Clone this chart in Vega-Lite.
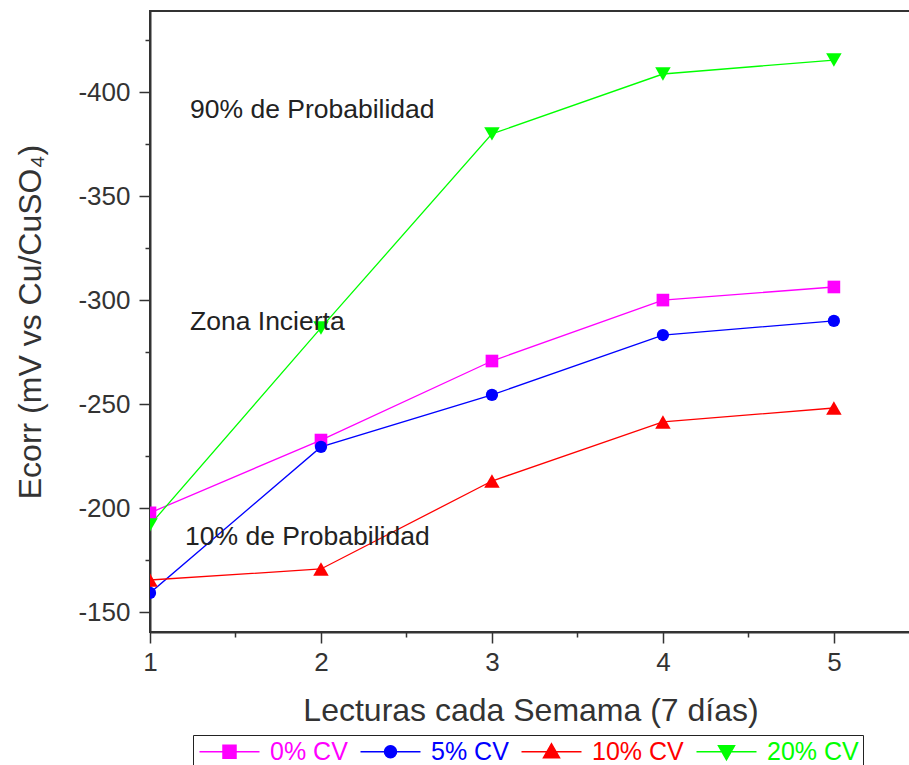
{
  "$schema": "https://vega.github.io/schema/vega-lite/v6.json",
  "width": 761,
  "height": 621,
  "autosize": "none",
  "padding": {"left": 150, "top": 11, "right": 0, "bottom": 133},
  "background": "white",
  "config": {
    "font": "Liberation Sans",
    "view": {"stroke": "#333", "strokeWidth": 2},
    "axis": {
      "grid": false,
      "labelFlush": false,
      "domainColor": "#333",
      "domainWidth": 2,
      "tickColor": "#333",
      "tickWidth": 1.5,
      "labelColor": "#333",
      "titleColor": "#333",
      "labelFont": "Liberation Sans",
      "titleFont": "Liberation Sans",
      "titleFontWeight": "normal"
    }
  },
  "datasets": {
    "series": [
      {"serie": "0% CV", "semana": 1, "ecorr": -197.7},
      {"serie": "0% CV", "semana": 2, "ecorr": -232.7},
      {"serie": "0% CV", "semana": 3, "ecorr": -270.7},
      {"serie": "0% CV", "semana": 4, "ecorr": -300.0},
      {"serie": "0% CV", "semana": 5, "ecorr": -306.3},
      {"serie": "5% CV", "semana": 1, "ecorr": -159.2},
      {"serie": "5% CV", "semana": 2, "ecorr": -229.4},
      {"serie": "5% CV", "semana": 3, "ecorr": -254.4},
      {"serie": "5% CV", "semana": 4, "ecorr": -283.2},
      {"serie": "5% CV", "semana": 5, "ecorr": -290.0},
      {"serie": "10% CV", "semana": 1, "ecorr": -165.4},
      {"serie": "10% CV", "semana": 2, "ecorr": -170.7},
      {"serie": "10% CV", "semana": 3, "ecorr": -213.0},
      {"serie": "10% CV", "semana": 4, "ecorr": -241.4},
      {"serie": "10% CV", "semana": 5, "ecorr": -248.1},
      {"serie": "20% CV", "semana": 1, "ecorr": -191.9},
      {"serie": "20% CV", "semana": 2, "ecorr": -286.6},
      {"serie": "20% CV", "semana": 3, "ecorr": -379.9},
      {"serie": "20% CV", "semana": 4, "ecorr": -408.7},
      {"serie": "20% CV", "semana": 5, "ecorr": -415.4}
    ],
    "notas": [
      {"texto": "90% de Probabilidad", "semana": 1.234, "ecorr": -391.4},
      {"texto": "Zona Incierta", "semana": 1.234, "ecorr": -289.5},
      {"texto": "10% de Probabilidad", "semana": 1.205, "ecorr": -186.1}
    ]
  },
  "resolve": {"axis": {"x": "independent", "y": "independent"}},
  "layer": [
    {
      "mark": {"type": "rule", "color": "#008080", "strokeWidth": 1.5},
      "encoding": {
        "y": {
          "datum": -350,
          "type": "quantitative",
          "scale": {"domain": [-140.4, -439], "nice": false, "zero": false},
          "axis": {
            "orient": "left",
            "values": [-425, -375, -325, -275, -225, -175],
            "tickSize": 5,
            "labels": false,
            "domain": false,
            "title": null
          }
        }
      }
    },
    {
      "mark": {"type": "rule", "color": "#800080", "strokeWidth": 1.5},
      "encoding": {
        "y": {
          "datum": -200,
          "type": "quantitative",
          "scale": {"domain": [-140.4, -439], "nice": false, "zero": false},
          "axis": null
        }
      }
    },
    {
      "data": {"name": "series"},
      "mark": {"type": "line", "strokeWidth": 1.3, "clip": true},
      "encoding": {
        "x": {
          "field": "semana",
          "type": "quantitative",
          "scale": {"domain": [1, 5.451], "nice": false, "zero": false},
          "axis": {
            "orient": "bottom",
            "values": [1, 2, 3, 4, 5],
            "tickSize": 11,
            "labelFontSize": 26,
            "labelPadding": 6,
            "title": "Lecturas cada Semama (7 días)",
            "titleFontSize": 32,
            "titlePadding": 20
          }
        },
        "y": {
          "field": "ecorr",
          "type": "quantitative",
          "scale": {"domain": [-140.4, -439], "nice": false, "zero": false},
          "axis": {
            "orient": "left",
            "values": [-400, -350, -300, -250, -200, -150],
            "labelExpr": "'' + datum.value",
            "tickSize": 11,
            "labelFontSize": 26,
            "labelPadding": 9,
            "title": "Ecorr (mV vs Cu/CuSO₄)",
            "titleFontSize": 32,
            "titlePadding": 30
          }
        },
        "stroke": {
          "field": "serie",
          "type": "nominal",
          "scale": {
            "domain": ["0% CV", "5% CV", "10% CV", "20% CV"],
            "range": ["#ff00ff", "#0000ff", "#ff0000", "#00ff00"]
          },
          "legend": {
            "orient": "none",
            "legendX": 43,
            "legendY": 724,
            "direction": "horizontal",
            "title": null,
            "strokeColor": "#222",
            "fillColor": "white",
            "padding": 4,
            "labelFont": "Liberation Sans",
            "labelFontSize": 25,
            "labelLimit": 0,
            "symbolSize": 400,
            "symbolStrokeWidth": 1.5,
            "symbolOffset": 20,
            "labelOffset": 28,
            "columnPadding": 9,
            "encode": {
              "symbols": {
                "update": {
                  "shape": {"signal": "datum.value === '0% CV' ? 'M-3,0H3M-0.65,-0.65H0.65V0.65H-0.65Z' : datum.value === '5% CV' ? 'M-3,0H3M0.6,0A0.6,0.6 0 1,1 -0.6,0A0.6,0.6 0 1,1 0.6,0Z' : datum.value === '10% CV' ? 'M-3,0H3M0,-0.8L0.8,0.6H-0.8Z' : 'M-3,0H3M0,0.8L0.8,-0.6H-0.8Z'"},
                  "fill": {"signal": "datum.value === '0% CV' ? '#ff00ff' : datum.value === '5% CV' ? '#0000ff' : datum.value === '10% CV' ? '#ff0000' : '#00ff00'"},
                  "stroke": {"signal": "datum.value === '0% CV' ? '#ff00ff' : datum.value === '5% CV' ? '#0000ff' : datum.value === '10% CV' ? '#ff0000' : '#00ff00'"},
                  "fillOpacity": {"value": 1},
                  "strokeWidth": {"value": 1.5}
                }
              },
              "labels": {
                "update": {
                  "fill": {"signal": "datum.value === '0% CV' ? '#ff00ff' : datum.value === '5% CV' ? '#0000ff' : datum.value === '10% CV' ? '#ff0000' : '#00ff00'"}
                }
              }
            }
          }
        }
      }
    },
    {
      "data": {"name": "series"},
      "transform": [{"filter": "datum.serie === '0% CV'"}],
      "mark": {"type": "point", "shape": "square", "filled": true, "opacity": 1, "size": 160, "color": "#ff00ff", "clip": true},
      "encoding": {
        "x": {
          "field": "semana",
          "type": "quantitative",
          "scale": {"domain": [1, 5.451], "nice": false, "zero": false},
          "axis": {
            "orient": "bottom",
            "values": [1.5, 2.5, 3.5, 4.5],
            "tickSize": 5,
            "labels": false,
            "domain": false,
            "title": null
          }
        },
        "y": {
          "field": "ecorr",
          "type": "quantitative",
          "scale": {"domain": [-140.4, -439], "nice": false, "zero": false},
          "axis": null
        }
      }
    },
    {
      "data": {"name": "series"},
      "transform": [{"filter": "datum.serie === '5% CV'"}],
      "mark": {"type": "point", "shape": "circle", "filled": true, "opacity": 1, "size": 150, "color": "#0000ff", "clip": true},
      "encoding": {
        "x": {"field": "semana", "type": "quantitative", "scale": {"domain": [1, 5.451], "nice": false, "zero": false}, "axis": null},
        "y": {"field": "ecorr", "type": "quantitative", "scale": {"domain": [-140.4, -439], "nice": false, "zero": false}, "axis": null}
      }
    },
    {
      "data": {"name": "series"},
      "transform": [{"filter": "datum.serie === '10% CV'"}],
      "mark": {"type": "point", "shape": "triangle-up", "filled": true, "opacity": 1, "size": 240, "color": "#ff0000", "clip": true},
      "encoding": {
        "x": {"field": "semana", "type": "quantitative", "scale": {"domain": [1, 5.451], "nice": false, "zero": false}, "axis": null},
        "y": {"field": "ecorr", "type": "quantitative", "scale": {"domain": [-140.4, -439], "nice": false, "zero": false}, "axis": null}
      }
    },
    {
      "data": {"name": "series"},
      "transform": [{"filter": "datum.serie === '20% CV'"}],
      "mark": {"type": "point", "shape": "triangle-down", "filled": true, "opacity": 1, "size": 240, "color": "#00ff00", "clip": true},
      "encoding": {
        "x": {"field": "semana", "type": "quantitative", "scale": {"domain": [1, 5.451], "nice": false, "zero": false}, "axis": null},
        "y": {"field": "ecorr", "type": "quantitative", "scale": {"domain": [-140.4, -439], "nice": false, "zero": false}, "axis": null}
      }
    },
    {
      "data": {"name": "notas"},
      "mark": {"type": "text", "align": "left", "baseline": "middle", "fontSize": 26.5, "font": "Liberation Sans", "color": "#222"},
      "encoding": {
        "x": {
          "field": "semana",
          "type": "quantitative",
          "scale": {"domain": [1, 5.451], "nice": false, "zero": false},
          "axis": null
        },
        "y": {
          "field": "ecorr",
          "type": "quantitative",
          "scale": {"domain": [-140.4, -439], "nice": false, "zero": false},
          "axis": null
        },
        "text": {"field": "texto", "type": "nominal"}
      }
    }
  ]
}
